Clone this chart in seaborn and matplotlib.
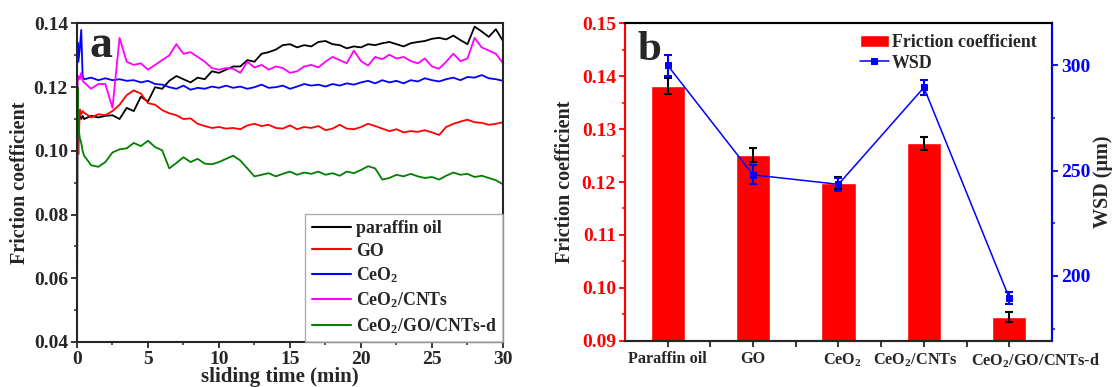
import numpy as np
import pandas as pd
import matplotlib
matplotlib.use("Agg")
import matplotlib.pyplot as plt
import matplotlib.transforms as mtransforms
import seaborn as sns

# ---------------- data: panel a (friction coefficient vs sliding time) ----------------
t_start = [0.0, 0.05, 0.1, 0.2, 0.3, 0.4]
t_main = list(np.arange(0.5, 30.01, 0.5))
time_min = t_start + t_main

paraffin = [0.112, 0.113, 0.110, 0.111, 0.110, 0.111,
            0.110, 0.111, 0.1105, 0.111, 0.1112, 0.110, 0.1135, 0.1125, 0.117, 0.1155,
            0.120, 0.1195, 0.122, 0.1235, 0.1225, 0.1215, 0.123, 0.1225, 0.125, 0.1245,
            0.1255, 0.1265, 0.1265, 0.1285, 0.128, 0.1305, 0.131, 0.1318, 0.1332, 0.1335,
            0.1325, 0.1332, 0.1328, 0.1342, 0.1345, 0.1335, 0.1332, 0.1322, 0.1328, 0.1325,
            0.1335, 0.1332, 0.1338, 0.1342, 0.1335, 0.1328, 0.1338, 0.1342, 0.1345, 0.1352,
            0.1355, 0.135, 0.1362, 0.1348, 0.1335, 0.139, 0.1375, 0.1358, 0.1382, 0.1345]
go = [0.112, 0.105, 0.099, 0.113, 0.1115, 0.1125,
      0.112, 0.1105, 0.1115, 0.1112, 0.1125, 0.1145, 0.1175, 0.119, 0.118, 0.115,
      0.1145, 0.1128, 0.1118, 0.1112, 0.110, 0.1102, 0.1085, 0.1078, 0.1072, 0.1075,
      0.107, 0.1072, 0.1068, 0.108, 0.1085, 0.1078, 0.1082, 0.1072, 0.107, 0.108,
      0.1068, 0.1075, 0.1072, 0.1078, 0.1065, 0.107, 0.1082, 0.107, 0.1068, 0.1075,
      0.1085, 0.1078, 0.107, 0.1062, 0.1068, 0.1058, 0.1062, 0.106, 0.1065, 0.1058,
      0.105, 0.1075, 0.1085, 0.1092, 0.1098, 0.109, 0.1088, 0.1082, 0.1085, 0.109]
ceo2 = [0.126, 0.134, 0.128, 0.132, 0.138, 0.1235,
        0.1225, 0.123, 0.1222, 0.1228, 0.1222, 0.1225, 0.122, 0.1222, 0.1215, 0.122,
        0.121, 0.1208, 0.120, 0.1195, 0.1205, 0.1192, 0.1198, 0.1195, 0.1202, 0.1198,
        0.1205, 0.1198, 0.1202, 0.1195, 0.120, 0.1208, 0.1198, 0.120, 0.1205, 0.1195,
        0.1202, 0.121, 0.1205, 0.1208, 0.1202, 0.121, 0.1205, 0.1212, 0.1208, 0.1215,
        0.122, 0.1212, 0.1222, 0.1215, 0.122, 0.1212, 0.1222, 0.1218, 0.1228, 0.1222,
        0.1218, 0.1225, 0.123, 0.1222, 0.1232, 0.123, 0.1238, 0.1228, 0.1225, 0.122]
ceo2_cnts = [0.044, 0.122, 0.1235, 0.1225, 0.1245, 0.122,
             0.1215, 0.1195, 0.121, 0.121, 0.1135, 0.1355, 0.128, 0.127, 0.1275, 0.1255,
             0.127, 0.1285, 0.130, 0.1335, 0.1305, 0.131, 0.1295, 0.128, 0.126, 0.1255,
             0.126, 0.1258, 0.1245, 0.128, 0.1262, 0.127, 0.1255, 0.1265, 0.126, 0.1245,
             0.125, 0.1265, 0.127, 0.1262, 0.128, 0.1295, 0.1285, 0.1275, 0.1315, 0.1282,
             0.1268, 0.1295, 0.1288, 0.1302, 0.129, 0.1295, 0.1282, 0.1275, 0.129, 0.1265,
             0.1258, 0.128, 0.1305, 0.1282, 0.129, 0.1355, 0.1325, 0.1315, 0.1305, 0.1275]
ceo2_go_cnts = [0.040, 0.120, 0.108, 0.104, 0.1025, 0.100,
                0.0985, 0.0955, 0.095, 0.0965, 0.0995, 0.1005, 0.1008, 0.1025, 0.1015, 0.1032,
                0.1012, 0.1002, 0.0945, 0.0962, 0.098, 0.0965, 0.0975, 0.096, 0.0958, 0.0965,
                0.0975, 0.0985, 0.097, 0.0945, 0.092, 0.0925, 0.093, 0.092, 0.0928, 0.0935,
                0.0925, 0.0932, 0.0928, 0.0935, 0.0925, 0.093, 0.0922, 0.0935, 0.093, 0.094,
                0.0952, 0.0945, 0.091, 0.0915, 0.0925, 0.092, 0.0928, 0.092, 0.0915, 0.0918,
                0.091, 0.0922, 0.0932, 0.0925, 0.0928, 0.0918, 0.0922, 0.0915, 0.0908, 0.0895]

series_names = ["paraffin oil", "GO", "CeO$_2$", "CeO$_2$/CNTs", "CeO$_2$/GO/CNTs-d"]
series_colors = ["black", "red", "blue", "magenta", "green"]

# ---------------- data: panel b ----------------
samples = ["Paraffin oil", "GO", "CeO$_2$", "CeO$_2$/CNTs", "CeO$_2$/GO/CNTs-d"]
friction = [0.1381, 0.1251, 0.1198, 0.1273, 0.0945]
friction_err = [0.0015, 0.0013, 0.0011, 0.0012, 0.0010]
wsd = [300.0, 248.0, 243.5, 289.5, 189.5]
wsd_err = [5.0, 4.5, 3.0, 3.5, 3.0]

# ---------------- style ----------------
sns.set_style("ticks")
plt.rcParams["font.family"] = ["Liberation Serif", "DejaVu Serif"]
plt.rcParams["font.weight"] = "bold"
plt.rcParams["axes.labelweight"] = "bold"
plt.rcParams["mathtext.fontset"] = "custom"
plt.rcParams["mathtext.rm"] = "Liberation Serif:bold"
plt.rcParams["mathtext.it"] = "Liberation Serif:bold:italic"
plt.rcParams["mathtext.bf"] = "Liberation Serif:bold"

fig = plt.figure(figsize=(11.17, 3.87), dpi=100)
ax1 = fig.add_axes([0.0689, 0.1163, 0.3814, 0.823])
ax2 = fig.add_axes([0.5595, 0.1196, 0.3823, 0.8202])

# ---------------- panel a ----------------
all_vals = [paraffin, go, ceo2, ceo2_cnts, ceo2_go_cnts]
frames = []
for name, vals in zip(series_names, all_vals):
    frames.append(pd.DataFrame({"t": time_min, "cof": vals, "sample": name}))
df_a = pd.concat(frames, ignore_index=True)

sns.lineplot(data=df_a, x="t", y="cof", hue="sample", hue_order=series_names,
             palette=series_colors, estimator=None, sort=False, linewidth=1.3, ax=ax1)
ax1.set_xlim(0, 30)
ax1.set_ylim(0.04, 0.14)
ax1.set_xticks([0, 5, 10, 15, 20, 25, 30])
ax1.set_xticks(np.arange(2.5, 30, 5), minor=True)
ax1.set_yticks([0.04, 0.06, 0.08, 0.10, 0.12, 0.14])
ax1.set_yticks(np.arange(0.05, 0.14, 0.02), minor=True)
ax1.set_yticklabels(["0.04", "0.06", "0.08", "0.10", "0.12", "0.14"])
ax1.tick_params(axis="both", which="major", labelsize=14, width=1.3, length=4.5, direction="out")
ax1.tick_params(axis="both", which="minor", width=1.1, length=2.5, direction="out")
ax1.tick_params(axis="x", pad=2)
ax1.tick_params(axis="y", pad=2)
for s in ax1.spines.values():
    s.set_linewidth(1.5)
ax1.set_xlabel("sliding time (min)", fontsize=15, labelpad=0)
ax1.xaxis.set_label_coords(0.476, -0.08, transform=ax1.transAxes)
ax1.xaxis.label.set_va("top")
ax1.set_ylabel("Friction coefficient", fontsize=14.5, labelpad=3)
ax1.text(0.03, 0.995, "a", transform=ax1.transAxes, fontsize=33, fontweight="bold",
         va="top", ha="left")
leg = ax1.legend(loc="lower right", fontsize=12.8, frameon=True, fancybox=False,
                 handlelength=2.2, labelspacing=0.32, borderaxespad=0, handletextpad=0.3,
                 borderpad=0.35)
leg.get_frame().set_edgecolor("#999999")
leg.get_frame().set_linewidth(1.0)
for line in leg.get_lines():
    line.set_linewidth(1.5)

# ---------------- panel b ----------------
df_b = pd.DataFrame({"sample": samples, "friction": friction})
sns.barplot(data=df_b, x="sample", y="friction", color="red", saturation=1,
            width=0.4, errorbar=None, ax=ax2, label="Friction coefficient")
if ax2.get_legend() is not None:
    ax2.get_legend().remove()
xpos = np.arange(len(samples))
ax2.errorbar(xpos, friction, yerr=friction_err, fmt="none", ecolor="black",
             elinewidth=1.5, capsize=3, capthick=1.5, zorder=5)
ax2.set_xlim(-0.5, 4.5)
ax2.set_ylim(0.09, 0.15)
ax2.set_yticks([0.09, 0.10, 0.11, 0.12, 0.13, 0.14, 0.15])
ax2.set_yticklabels(["0.09", "0.10", "0.11", "0.12", "0.13", "0.14", "0.15"])
ax2.set_yticks(np.arange(0.095, 0.15, 0.01), minor=True)
ax2.set_xticks(xpos)
ax2.set_xticklabels(samples)
ax2.set_xticks(np.arange(0.5, 4.5, 1.0), minor=True)
ax2.tick_params(axis="x", which="major", labelsize=11.7, width=1.3, length=4.5, direction="out", pad=3)
ax2.tick_params(axis="x", which="minor", width=1.3, length=4.5, direction="out")
ax2.tick_params(axis="y", which="major", labelsize=14, width=1.3, length=4.5,
                direction="out", colors="red", pad=2)
ax2.tick_params(axis="y", which="minor", width=1.1, length=2.5, direction="out", colors="red")
ax2.set_xlabel("")
ax2.set_ylabel("Friction coefficient", fontsize=14.5, labelpad=5)
for s in ax2.spines.values():
    s.set_linewidth(1.5)
ax2.spines["left"].set_color("red")

# shift the two crowded category labels like the reference
xlabels = ax2.get_xticklabels()
shifts = [0, 0, 4, -9, 26]
for lab, dx in zip(xlabels, shifts):
    if dx:
        lab.set_transform(lab.get_transform() +
                          mtransforms.ScaledTranslation(dx / 100.0, 0, fig.dpi_scale_trans))

ax3 = ax2.twinx()
ax3.errorbar(xpos, wsd, yerr=wsd_err, fmt="none", ecolor="blue",
             elinewidth=1.5, capsize=3, capthick=1.5, zorder=5)
sns.lineplot(x=xpos, y=wsd, color="blue", marker="s", markersize=5,
             markeredgecolor="blue", linewidth=1.1, ax=ax3, label="WSD")
ax3.set_ylim(169.2, 320)
ax3.set_yticks([200, 250, 300])
ax3.set_yticks([175, 225, 275], minor=True)
ax3.tick_params(axis="y", which="major", labelsize=14, width=1.3, length=4.5,
                direction="out", colors="blue", pad=2)
ax3.tick_params(axis="y", which="minor", width=1.1, length=2.5, direction="out", colors="blue")
ax3.set_ylabel("WSD (μm)", fontsize=14.5, labelpad=2)
for s in ax3.spines.values():
    s.set_linewidth(1.5)
ax3.spines["right"].set_color("blue")
ax3.spines["left"].set_color("red")
ax3.spines["top"].set_color("black")

ax2.text(0.03, 0.975, "b", transform=ax2.transAxes, fontsize=31, fontweight="bold",
         va="top", ha="left", zorder=10)

h1, l1 = ax2.get_legend_handles_labels()
h3, l3 = ax3.get_legend_handles_labels()
if ax3.get_legend() is not None:
    ax3.get_legend().remove()
ax3.legend(h1[:1] + h3[:1], l1[:1] + l3[:1], loc="upper right", bbox_to_anchor=(0.99, 1.0),
           fontsize=12.9, frameon=False, handlelength=1.6, handletextpad=0.2,
           labelspacing=0.2, borderaxespad=0.2)

fig.savefig("out.png", dpi=100)
